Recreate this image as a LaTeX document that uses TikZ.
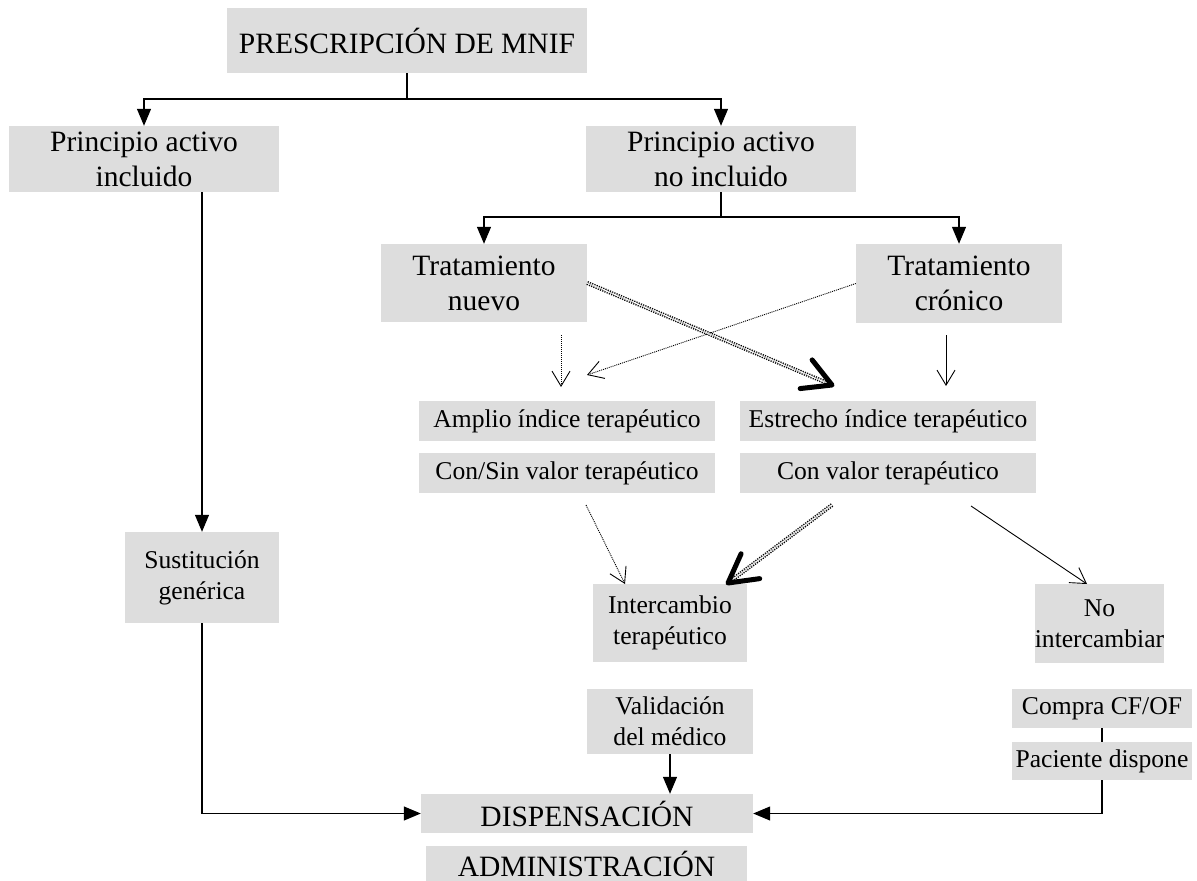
\documentclass[tikz,border=0pt]{standalone}
\usepackage{fontspec}
\setmainfont{Liberation Serif}
\usetikzlibrary{arrows.meta,calc}
\definecolor{boxgray}{RGB}{221,221,221}
\newcommand\bigf{\fontsize{29.5}{35}\selectfont}
\newcommand\medf{\fontsize{25.6}{31}\selectfont}
\begin{document}
\begin{tikzpicture}[x=1pt,y=-1pt,
  box/.style={fill=boxgray, inner sep=0pt, align=center},
  bigbox/.style={box, font=\bigf},
  medbox/.style={box, font=\medf},
  conn/.style={line width=1.2pt, -{Triangle[length=17pt,width=14pt]}},
  plain/.style={line width=1.2pt},
  thinarr/.style={line width=0.9pt, -{Straight Barb[length=15pt,width=18pt,line width=0.9pt]}},
  dotarr/.style={thinarr, dash pattern=on 1pt off 1pt},
  hatch/.style={double, double distance=1.3pt, line width=1.4pt, dash pattern=on 1.2pt off 1.2pt},
  thickhead/.style={line width=5pt, line cap=round, line join=round}
]
\useasboundingbox (0,0) rectangle (1197,881);

% boxes
\node[bigbox, minimum width=360pt, minimum height=65pt] (pres) at (407,40.5) {PRESCRIPCIÓN DE MNIF};
\node[bigbox, minimum width=270pt, minimum height=66pt] (incl) at (144,159) {Principio activo\\incluido};
\node[bigbox, minimum width=270pt, minimum height=66pt] (noincl) at (721,159) {Principio activo\\no incluido};
\node[bigbox, minimum width=206pt, minimum height=78pt] (nuevo) at (484,283) {Tratamiento\\nuevo};
\node[bigbox, minimum width=206pt, minimum height=79pt] (cronico) at (959,283.5) {Tratamiento\\crónico};
\node[medbox, minimum width=296pt, minimum height=40pt] (amplio) at (567,421) {Amplio índice terapéutico};
\node[medbox, minimum width=296pt, minimum height=40pt] (consin) at (567,473) {Con/Sin valor terapéutico};
\node[medbox, minimum width=296pt, minimum height=40pt] (estrecho) at (888,421) {Estrecho índice terapéutico};
\node[medbox, minimum width=296pt, minimum height=40pt] (conval) at (888,473) {Con valor terapéutico};
\node[medbox, minimum width=154pt, minimum height=91pt] (sust) at (202,577.5) {Sustitución\\genérica};
\node[medbox, minimum width=154pt, minimum height=78pt] (inter) at (670,623) {Intercambio\\terapéutico};
\node[medbox, minimum width=129pt, minimum height=79pt] (nointer) at (1099.5,623.5) {No\\intercambiar};
\node[medbox, minimum width=166pt, minimum height=65pt] (valid) at (670,721.5) {Validación\\del médico};
\node[bigbox, minimum width=332pt, minimum height=39pt] (disp) at (587,813.5) {DISPENSACIÓN};
\node[bigbox, minimum width=321pt, minimum height=35pt] (admin) at (586.5,863.5) {ADMINISTRACIÓN};
\node[medbox, minimum width=180pt, minimum height=39pt] (compra) at (1102,708.5) {Compra CF/OF};
\node[medbox, minimum width=180pt, minimum height=38pt] (paciente) at (1102,761) {Paciente dispone};

% helper coordinates
\coordinate (split1) at (407,99);
\coordinate (split2) at (721,217);
\coordinate (n1s) at (561,335);
\coordinate (n1e) at (561,387);
\coordinate (c1s) at (946,335);
\coordinate (c1e) at (946,386);
\coordinate (x1e) at (832,385);
\coordinate (x2e) at (587,375);
\coordinate (l1s) at (586,505);
\coordinate (l1e) at (625,584);
\coordinate (l2s) at (832,505);
\coordinate (l2e) at (728,583);
\coordinate (l3s) at (971,506);
\coordinate (l3e) at (1087,584);

% tree connectors
\draw[plain] (pres.south) -- (split1);
\draw[conn] (split1) -| (incl.north);
\draw[conn] (split1) -| (noincl.north);
\draw[plain] (noincl.south) -- (split2);
\draw[conn] (split2) -| (nuevo.north);
\draw[conn] (split2) -| (cronico.north);
\draw[conn] (incl.south -| sust.north) -- (sust.north);
\draw[conn] (sust.south) |- (disp.west);
\draw[conn] (valid.south) -- (valid.south |- disp.north);
\draw[plain] (compra.south) -- (paciente.north);
\draw[conn] (paciente.south) |- (disp.east);

% middle arrows
\draw[dotarr] (n1s) -- (n1e);
\draw[thinarr] (c1s) -- (c1e);
\draw[dotarr] (cronico.west) -- (x2e);
\draw[hatch] (nuevo.east) -- (x1e);
\draw[thickhead] ($(x1e)!32pt!29:(nuevo.east)$) -- (x1e) -- ($(x1e)!32pt!-29:(nuevo.east)$);

\draw[dotarr] (l1s) -- (l1e);
\draw[hatch] (l2s) -- (l2e);
\draw[thickhead] ($(l2e)!32pt!29:(l2s)$) -- (l2e) -- ($(l2e)!32pt!-29:(l2s)$);
\draw[thinarr] (l3s) -- (l3e);
\end{tikzpicture}
\end{document}
